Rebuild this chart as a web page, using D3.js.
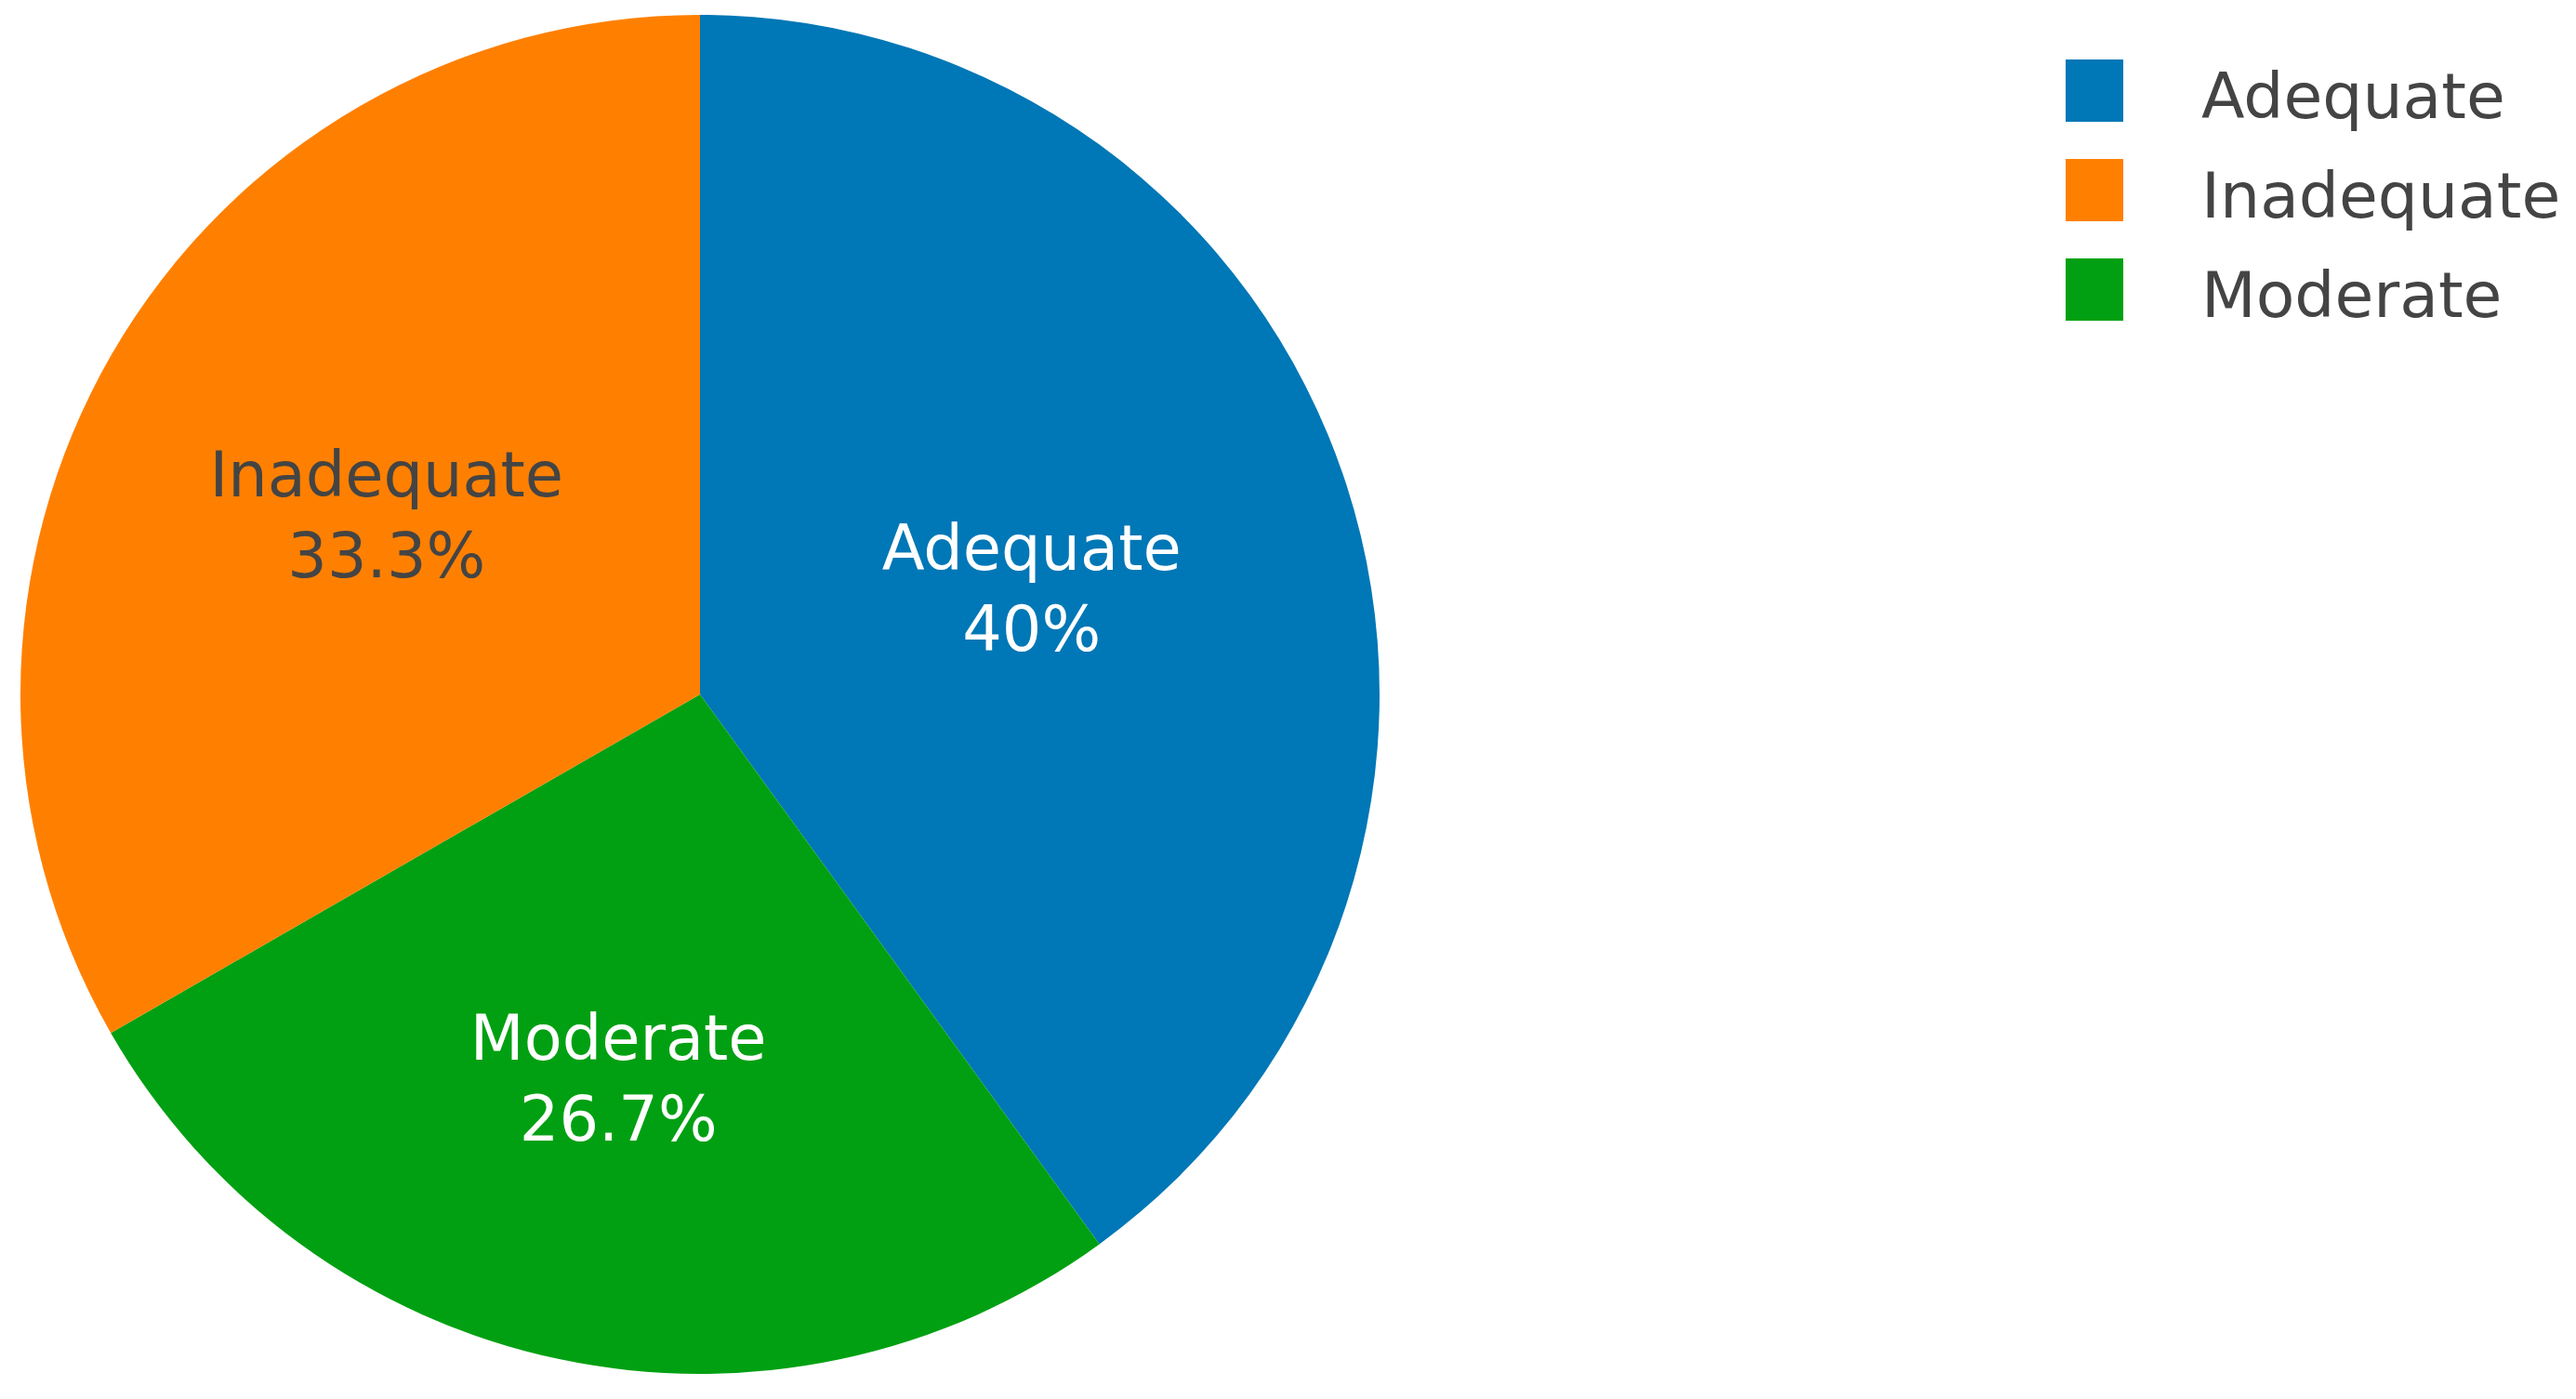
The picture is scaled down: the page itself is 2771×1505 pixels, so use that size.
<!DOCTYPE html>
<meta charset="utf-8">
<title>Pie</title>
<style>
body { margin: 0; background: #fff; }
text { font-family: "DejaVu Sans", Verdana, sans-serif; }
</style>
<body>
<div id="chart"></div>
<script src="https://d3js.org/d3.v7.min.js"></script>
<script>
// data
const categories = ["Adequate", "Moderate", "Inadequate"];
const values = [40, 26.7, 33.3];
const legendOrder = ["Adequate", "Inadequate", "Moderate"];

const colors = { Adequate: "#0077b6", Inadequate: "#ff8000", Moderate: "#00a012" };
const textColors = { Adequate: "#fff", Inadequate: "#444", Moderate: "#fff" };
// how far out each label sits, as share of the radius
const labelPos = { Adequate: 0.513, Inadequate: 0.533, Moderate: 0.575 };

const width = 2771, height = 1505;
const cx = 753, cy = 747, radius = 731;
const fontSize = 67, lineH = 87;

const svg = d3.select("#chart").append("svg")
    .attr("width", width)
    .attr("height", height);

const g = svg.append("g").attr("transform", `translate(${cx},${cy})`);

const table = categories.map((c, i) => ({ name: c, value: values[i] }));

const pie = d3.pie().sort(null).value(d => d.value);
const arc = d3.arc().innerRadius(0).outerRadius(radius);
const arcs = pie(table);

g.selectAll("path")
  .data(arcs)
  .enter().append("path")
    .attr("d", arc)
    .attr("fill", d => colors[d.data.name]);

const labels = g.selectAll("text.lab")
  .data(arcs)
  .enter().append("text")
    .attr("class", "lab")
    .attr("text-anchor", "middle")
    .style("font-size", fontSize + "px")
    .attr("fill", d => textColors[d.data.name])
    .attr("transform", d => {
      const a = (d.startAngle + d.endAngle) / 2;
      const r = radius * labelPos[d.data.name];
      return `translate(${Math.sin(a) * r},${-Math.cos(a) * r})`;
    });

labels.append("tspan")
    .attr("x", 0)
    .attr("y", -18)
    .text(d => d.data.name);
labels.append("tspan")
    .attr("x", 0)
    .attr("y", -18 + lineH)
    .text(d => d.data.value + "%");

// legend
const legend = svg.append("g").attr("transform", "translate(2222,64)");
const item = legend.selectAll("g")
  .data(legendOrder)
  .enter().append("g")
    .attr("transform", (d, i) => `translate(0,${i * 107})`);

item.append("rect")
    .attr("width", 62)
    .attr("height", 67)
    .attr("fill", d => colors[d]);

item.append("text")
    .attr("x", 146)
    .attr("y", 63)
    .attr("fill", "#444")
    .style("font-size", "68px")
    .text(d => d);
</script>
</body>
